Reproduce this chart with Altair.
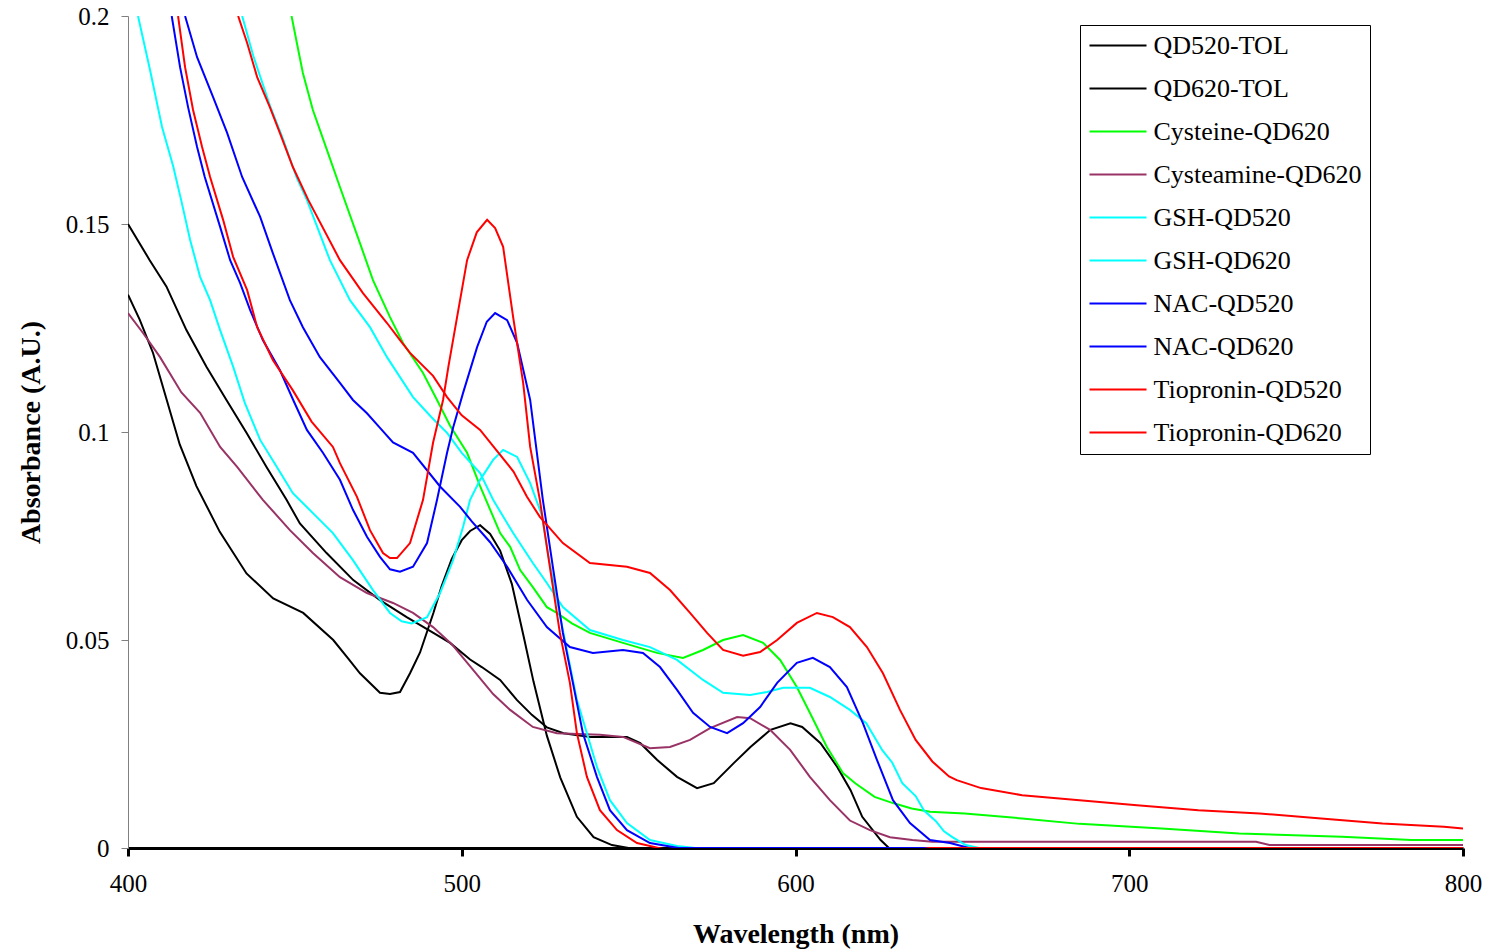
import altair as alt
import pandas as pd

# ---- series names / colours ----
names = ["QD520-TOL", "QD620-TOL", "Cysteine-QD620", "Cysteamine-QD620",
         "GSH-QD520", "GSH-QD620", "NAC-QD520", "NAC-QD620",
         "Tiopronin-QD520", "Tiopronin-QD620"]
colors = ["#000000", "#000000", "#00FF00", "#993366",
          "#00FFFF", "#00FFFF", "#0000FF", "#0000FF",
          "#FF0000", "#FF0000"]

x_ticks = [400, 500, 600, 700, 800]
y_ticks = [0, 0.05, 0.1, 0.15, 0.2]

# ---- data (wavelength nm, absorbance) ----
qd520_tol_wl = [400, 403.5, 407.5, 411.5, 415.5, 420.5, 427.5, 435.5, 443.5, 452.5,
                461.5, 466, 469.5, 475.5, 478.5, 481.5, 484.5, 487.5, 491.5, 494,
                497, 500, 502.5, 505.5, 508.5, 511.5, 515, 518.5, 521.5, 525.5,
                529.5, 534.5, 539.5, 545, 550, 800]
qd520_tol_a = [0.133, 0.127, 0.119, 0.108, 0.097, 0.087, 0.076, 0.066, 0.060, 0.0565,
               0.050, 0.0455, 0.042, 0.0373, 0.037, 0.0375, 0.042, 0.047, 0.0565, 0.063,
               0.0695, 0.074, 0.0762, 0.0776, 0.0755, 0.0715, 0.0635, 0.051, 0.040, 0.027,
               0.017, 0.0075, 0.0026, 0.0007, 0.0, 0.0]

qd620_tol_wl = [400, 406.5, 411.5, 417.5, 423.5, 429.5, 435.5, 441.5, 447.5, 451.5,
                459.5, 467.5, 475.5, 483.5, 491.5, 496.5, 502.5, 506, 511.5, 516.5,
                521, 525.5, 530.5, 538.5, 549.5, 553.5, 558.5, 564.5, 570.5, 575.5,
                581.5, 586.5, 592.5, 598.5, 602, 607.5, 612.5, 616.5, 620, 625.5,
                628, 800]
qd620_tol_a = [0.150, 0.1413, 0.135, 0.1245, 0.1157, 0.1077, 0.0998, 0.0916, 0.0837, 0.078,
               0.0709, 0.0644, 0.0596, 0.0555, 0.0517, 0.0493, 0.0453, 0.0435, 0.0404, 0.0356,
               0.032, 0.029, 0.0276, 0.0267, 0.0267, 0.0252, 0.0212, 0.0171, 0.0144, 0.0156,
               0.0204, 0.0243, 0.0284, 0.030, 0.0291, 0.0252, 0.0195, 0.0139, 0.0075, 0.0019,
               0.0, 0.0]

cys_wl = [449, 450.6, 452.4, 455.4, 459.6, 463.5, 469.5, 473.4, 478.5, 482.4,
          488.4, 492.6, 496.5, 501.6, 505.5, 511.5, 514.5, 517.5, 521.3, 525.5,
          528.5, 533, 538.4, 548.3, 558.5, 566.3, 572.3, 578.3, 584.3, 590.3,
          595.4, 600.4, 604.3, 609.4, 614.2, 618, 623.7, 629.2, 634.8, 640.3,
          650.7, 667.9, 685.1, 709.7, 732.9, 763.7, 784.6, 800]
cys_a = [0.2, 0.1935, 0.1863, 0.1774, 0.1678, 0.1589, 0.1454, 0.1365, 0.1276, 0.1214,
         0.1142, 0.1077, 0.1015, 0.095, 0.087, 0.0757, 0.0724, 0.0668, 0.0627, 0.0579,
         0.0565, 0.054, 0.0517, 0.0493, 0.0469, 0.0457, 0.0476, 0.050, 0.0512, 0.0493,
         0.0452, 0.0387, 0.0325, 0.0243, 0.018, 0.0155, 0.0123, 0.0108, 0.0095, 0.0087,
         0.0083, 0.0071, 0.0058, 0.0047, 0.0035, 0.0027, 0.0019, 0.0019]

cya_wl = [400, 404.5, 409.6, 416, 421.6, 427.6, 432.7, 440.4, 448.5, 455.4,
          463.5, 471.6, 479.4, 485.4, 491.4, 497, 503.4, 509.4, 514.5, 521.3,
          528.5, 541.4, 548.3, 556.4, 562.4, 568.4, 574.4, 582.5, 586.4, 592.4,
          598.4, 604.3, 610.3, 616.3, 622.3, 628.3, 635, 641, 738, 742,
          800]
cya_a = [0.1286, 0.1238, 0.118, 0.1095, 0.1046, 0.0964, 0.0916, 0.0837, 0.0764, 0.0709,
         0.0651, 0.0613, 0.0589, 0.0565, 0.0531, 0.049, 0.0428, 0.037, 0.0332, 0.0291,
         0.0276, 0.0272, 0.0267, 0.024, 0.0243, 0.026, 0.0288, 0.0315, 0.0312, 0.0284,
         0.0236, 0.0171, 0.0115, 0.0066, 0.0043, 0.0026, 0.0019, 0.0015, 0.0015, 0.0007,
         0.0007]

gsh520_wl = [403, 406.6, 410.2, 413.5, 416, 418.6, 421.6, 424.6, 427.6, 431.5,
             435, 439.6, 444.6, 449.4, 455.4, 461.4, 467.4, 473.4, 478.5, 482,
             485, 489.6, 493.5, 497.4, 500.4, 502.5, 505.5, 509.4, 512.4, 516.6,
             520.5, 524, 526, 528.5, 531.5, 534.5, 537.5, 540.5, 544.4, 549.5,
             556.4, 564.5, 570, 800]
gsh520_a = [0.2, 0.187, 0.1733, 0.164, 0.1555, 0.1462, 0.1373, 0.1317, 0.1245, 0.1157,
            0.107, 0.0981, 0.0916, 0.0853, 0.0805, 0.0757, 0.0692, 0.062, 0.0565, 0.0545,
            0.054, 0.0555, 0.0613, 0.0692, 0.0772, 0.0837, 0.0885, 0.0933, 0.0957, 0.094,
            0.0877, 0.080, 0.070, 0.0596, 0.0476, 0.0356, 0.0276, 0.0195, 0.0115, 0.006,
            0.0019, 0.0005, 0.0, 0.0]

gsh620_wl = [434.2, 437.5, 442.5, 446.4, 450.6, 453.6, 460.5, 466.5, 472.5, 477.6,
             485.4, 491, 495.6, 500, 505.5, 509.4, 515.4, 521.3, 525.5, 530.3,
             538.4, 548.3, 556.4, 564.5, 572.3, 578.3, 586.4, 591.5, 596.3, 604.3,
             610.3, 616.3, 621.2, 626, 629, 632, 636, 638.5, 642, 644.5,
             647, 651, 655, 800]
gsh620_a = [0.2, 0.1905, 0.1785, 0.1705, 0.161, 0.1558, 0.1413, 0.1317, 0.1252, 0.118,
            0.1084, 0.1035, 0.0998, 0.095, 0.0901, 0.0837, 0.0757, 0.0685, 0.0637, 0.0579,
            0.0524, 0.050, 0.0483, 0.0452, 0.0404, 0.0373, 0.0368, 0.0375, 0.0385, 0.0385,
            0.0363, 0.0332, 0.030, 0.0235, 0.0205, 0.0156, 0.0125, 0.009, 0.0065, 0.004,
            0.0026, 0.0007, 0.0, 0.0]

nac520_wl = [413.1, 415.6, 418, 420.7, 423, 427.6, 430.6, 433.6, 436.6, 440.4,
             445.5, 449.5, 453.6, 458.4, 463.5, 467.4, 471.6, 475.5, 478.5, 481.5,
             485.4, 489.6, 492.6, 495.6, 497.4, 500.4, 504.6, 507.5, 510, 513.6,
             516.6, 520.5, 524.3, 527.3, 530.3, 533.3, 536.3, 540.5, 544.4, 549.5,
             556.4, 565, 800]
nac520_a = [0.2, 0.1877, 0.1781, 0.1685, 0.1613, 0.1493, 0.1413, 0.1358, 0.1293, 0.1221,
            0.1149, 0.1077, 0.1005, 0.095, 0.0885, 0.0813, 0.0748, 0.070, 0.067, 0.0664,
            0.0676, 0.0733, 0.0837, 0.095, 0.101, 0.1094, 0.1204, 0.1265, 0.1286, 0.1269,
            0.1214, 0.1077, 0.0837, 0.0676, 0.0517, 0.0397, 0.0276, 0.0171, 0.0091, 0.0043,
            0.0012, 0.0, 0.0]

nac620_wl = [417.1, 420.7, 425.5, 429.7, 434.2, 439.6, 443.4, 448.5, 452.4, 457.5,
             463.5, 467.4, 471.6, 475.5, 479.4, 485.4, 493.5, 499.5, 503, 508.5,
             513.6, 519.6, 525.5, 532.4, 539.3, 548.3, 554.3, 559.4, 564.5, 569.3,
             574.4, 579.5, 584.3, 589.4, 594.5, 600.4, 605.2, 610.3, 615.4, 620.2,
             624.4, 629.2, 634.3, 640.3, 646.3, 652, 800]
nac620_a = [0.2, 0.1901, 0.1805, 0.1719, 0.1613, 0.1517, 0.143, 0.1317, 0.1252, 0.118,
            0.1118, 0.1077, 0.1045, 0.101, 0.0975, 0.095, 0.0869, 0.082, 0.0785, 0.0735,
            0.0676, 0.0596, 0.0531, 0.0483, 0.0469, 0.0476, 0.0469, 0.0435, 0.038, 0.0325,
            0.0291, 0.0276, 0.030, 0.0339, 0.0397, 0.0445, 0.0457, 0.0435, 0.0387, 0.030,
            0.0212, 0.0115, 0.006, 0.0019, 0.0012, 0.0, 0.0]

tio520_wl = [415, 417.1, 419.5, 422.2, 424.6, 428.5, 431.5, 435.7, 438.7, 443.4,
             449.4, 455, 461.4, 463.5, 468.6, 472.5, 476.4, 478.5, 480.6, 484.5,
             488.4, 491.4, 494.4, 496, 498.6, 501.6, 504.5, 507.6, 510, 512.4,
             515.4, 518.4, 520.5, 523.4, 526.4, 529.4, 532.4, 534.5, 537.5, 541.4,
             546.5, 552.5, 558, 562, 636, 640, 800]
tio520_a = [0.2, 0.1877, 0.1774, 0.1685, 0.1613, 0.151, 0.1421, 0.1341, 0.1252, 0.1173,
            0.110, 0.1025, 0.0964, 0.0925, 0.0844, 0.0764, 0.0709, 0.0697, 0.0697, 0.0733,
            0.0837, 0.0974, 0.1077, 0.1157, 0.1276, 0.1413, 0.148, 0.151, 0.149, 0.1445,
            0.1276, 0.1118, 0.0964, 0.0837, 0.0676, 0.0517, 0.0397, 0.0276, 0.0171, 0.0091,
            0.0043, 0.0012, 0.0002, -0.0006, -0.0006, 0.0, 0.0]

tio620_wl = [433, 435.7, 438.7, 442.5, 445.5, 449.4, 454, 463.5, 470.4, 477.6,
             481.5, 484.5, 491.4, 495.6, 500, 505.5, 510, 515.5, 519.5, 523.4,
             530.3, 538.4, 549.5, 556.4, 562.4, 568.4, 573.5, 578.3, 584.3, 589.4,
             594.5, 600.4, 606.4, 611.2, 616.3, 621.4, 626.2, 631.3, 636, 641,
             646, 648.3, 655.6, 667.9, 685.1, 702.3, 720.7, 739.1, 757.5, 775.9,
             794.3, 800]
tio620_a = [0.2, 0.1935, 0.1853, 0.1781, 0.1719, 0.1637, 0.1558, 0.1413, 0.1334, 0.1262,
            0.1221, 0.119, 0.1135, 0.1084, 0.104, 0.1005, 0.096, 0.0905, 0.0845, 0.0796,
            0.0733, 0.0685, 0.0676, 0.0661, 0.062, 0.0565, 0.0517, 0.0476, 0.0462, 0.0471,
            0.050, 0.0541, 0.0565, 0.0555, 0.0531, 0.0483, 0.042, 0.0332, 0.026, 0.0208,
            0.0172, 0.0163, 0.0144, 0.0127, 0.0115, 0.0103, 0.0091, 0.0083, 0.0071, 0.0059,
            0.0051, 0.0047]

series = [
    (qd520_tol_wl, qd520_tol_a), (qd620_tol_wl, qd620_tol_a),
    (cys_wl, cys_a), (cya_wl, cya_a),
    (gsh520_wl, gsh520_a), (gsh620_wl, gsh620_a),
    (nac520_wl, nac520_a), (nac620_wl, nac620_a),
    (tio520_wl, tio520_a), (tio620_wl, tio620_a),
]

rows = []
for name, (wl, a) in zip(names, series):
    for w, v in zip(wl, a):
        rows.append({"series": name, "wl": w, "abs": v})
df = pd.DataFrame(rows)

FONT = "Liberation Serif"

x_enc = alt.X("wl:Q",
              scale=alt.Scale(domain=[400, 800], nice=False),
              axis=alt.Axis(title="Wavelength (nm)", values=x_ticks, format="d",
                            grid=False, domainColor="black", domainWidth=3,
                            tickColor="black", tickWidth=3, tickSize=8,
                            labelFlush=False,
                            labelFont=FONT, labelFontSize=25, labelColor="black",
                            labelPadding=15, titleFont=FONT, titleFontSize=28,
                            titleFontWeight="bold", titleColor="black",
                            titlePadding=24))
y_enc = alt.Y("abs:Q",
              scale=alt.Scale(domain=[0, 0.2], nice=False, zero=False),
              axis=alt.Axis(title="Absorbance (A.U.)", values=y_ticks,
                            labelExpr="datum.value == 0 ? '0' : format(datum.value, '.2~f')",
                            grid=False, domainColor="#808080", domainWidth=1,
                            tickColor="#808080", tickWidth=1, tickSize=7,
                            labelFlush=False,
                            labelFont=FONT, labelFontSize=25, labelColor="black",
                            labelPadding=12, titleFont=FONT, titleFontSize=28,
                            titleFontWeight="bold", titleColor="black",
                            titlePadding=20))

legend = alt.Legend(title=None, orient="none", legendX=952, legendY=9,
                    symbolType="stroke", symbolSize=3249, symbolStrokeWidth=2,
                    clipHeight=24, rowPadding=17, padding=8.5,
                    strokeColor="black", fillColor="white",
                    labelFont=FONT, labelFontSize=26, labelColor="black",
                    labelOffset=6, labelLimit=400)

color_enc = alt.Color("series:N", scale=alt.Scale(domain=names, range=colors),
                      legend=legend)

layers = []
for name in names:
    layers.append(
        alt.Chart(df).transform_filter(alt.datum.series == name)
        .mark_line(clip=True, strokeWidth=2)
        .encode(x=x_enc, y=y_enc, color=color_enc)
    )

chart = alt.layer(*layers).properties(
    width=1335, height=832,
    autosize=alt.AutoSizeParams(type="none"),
    padding={"left": 128, "top": 16, "right": 31, "bottom": 104},
    background="white",
).configure_view(stroke=None)

chart.save("out.html", embed_options={"renderer": "svg", "actions": False})
